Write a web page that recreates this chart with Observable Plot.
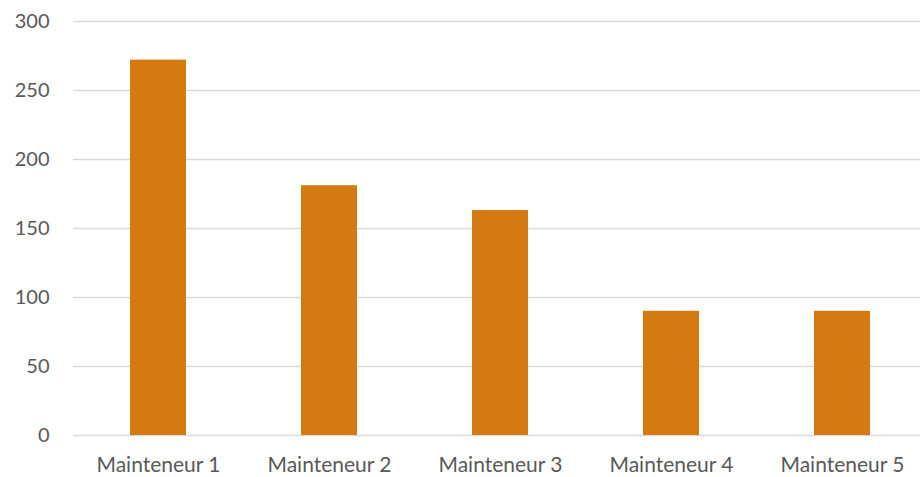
<!DOCTYPE html>
<html><head><meta charset="utf-8">
<script src="https://cdn.jsdelivr.net/npm/d3@7"></script>
<script src="https://cdn.jsdelivr.net/npm/@observablehq/plot@0.6"></script>
<style>
html,body{margin:0;padding:0;background:#fff;}
</style>
</head><body><div id="chart"></div>
<script>
const categories = ["Mainteneur 1","Mainteneur 2","Mainteneur 3","Mainteneur 4","Mainteneur 5"];
const values = [272, 181, 163, 90, 90];
const yTicks = [0, 50, 100, 150, 200, 250, 300];

const data = categories.map((c, i) => ({cat: c, val: values[i]}));

const chart = Plot.plot({
  width: 920,
  height: 477,
  marginTop: 21,
  marginBottom: 42,
  marginLeft: 73,
  marginRight: 0,
  style: {fontFamily: "Lato, 'Open Sans', sans-serif", fontSize: "20px", color: "#595959", background: "#fff"},
  x: {domain: categories, range: [72.5, 927.5], paddingInner: 0.67, paddingOuter: 0.335, label: null},
  y: {domain: [0, 300], ticks: yTicks, label: null},
  marks: [
    Plot.ruleY(yTicks, {stroke: "#d9d9d9", strokeWidth: 1.5}),
    Plot.barY(data, {x: "cat", y: "val", fill: "#d47a11"}),
    Plot.axisX({tickSize: 0, tickPadding: 22, fill: "#595959", fontSize: 21}),
    Plot.axisY({ticks: yTicks, tickSize: 0, tickPadding: 24, fill: "#595959", fontSize: 20})
  ]
});
document.getElementById("chart").appendChild(chart);
</script>
</body></html>
